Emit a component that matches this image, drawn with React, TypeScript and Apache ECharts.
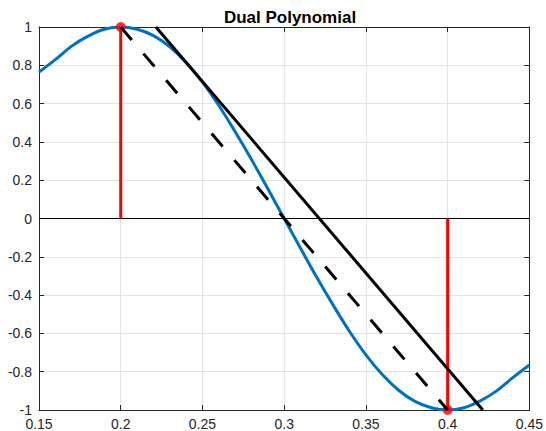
import React, { useEffect, useRef } from "react";
import * as echarts from "echarts";

const curveX = [
  0.15, 0.16, 0.17, 0.18, 0.19, 0.2, 0.21, 0.22, 0.23, 0.24, 0.25, 0.26, 0.27, 0.28, 0.29, 0.3,
  0.31, 0.32, 0.33, 0.34, 0.35, 0.36, 0.37, 0.38, 0.39, 0.4, 0.41, 0.42, 0.43, 0.44, 0.45,
];
const curveY = [
  0.765, 0.83, 0.9, 0.952, 0.988, 1.0, 0.988, 0.955, 0.897, 0.815, 0.712, 0.59, 0.453, 0.308, 0.155, 0.0,
  -0.155, -0.308, -0.453, -0.59, -0.712, -0.815, -0.897, -0.955, -0.988, -1.0, -0.988, -0.952, -0.9, -0.83, -0.765,
];
const spikeX = [0.2, 0.4];
const spikeY = [1, -1];
const dashedX = [0.2, 0.4];
const dashedY = [1, -1];
const solidX = [0.2215, 0.4215];
const solidY = [1, -1];
const zeroX = [0.15, 0.45];
const zeroY = [0, 0];
const xTicks = { min: 0.15, max: 0.45, step: 0.05 };
const yTicks = { min: -1, max: 1, step: 0.2 };

const FONT = "'Liberation Sans', Arial, Helvetica, sans-serif";
const AX = "#262626";

const pairs = (xs: number[], ys: number[]) => xs.map((x, i) => [x, ys[i]]);

export default function App() {
  const ref = useRef<HTMLDivElement>(null);
  useEffect(() => {
    if (!ref.current) return;
    const chart = echarts.init(ref.current, undefined, { renderer: "svg" });
    const fmt = (v: number) => String(parseFloat(v.toFixed(2)));
    const baseX = {
      type: "value" as const,
      min: xTicks.min,
      max: xTicks.max,
      interval: xTicks.step,
      axisLine: { onZero: false, lineStyle: { color: AX, width: 1 } },
      axisTick: { inside: true, length: 5, lineStyle: { color: AX } },
    };
    const baseY = {
      type: "value" as const,
      min: yTicks.min,
      max: yTicks.max,
      interval: yTicks.step,
      axisLine: { onZero: false, show: true, lineStyle: { color: AX, width: 1 } },
      axisTick: { inside: true, show: true, length: 5, lineStyle: { color: AX } },
    };
    const spikeStems = spikeX.map((x, i) => ({
      type: "line" as const,
      data: [[x, 0], [x, spikeY[i]]],
      showSymbol: false,
      symbol: "none",
      lineStyle: { color: "#ff0000", width: 3 },
      z: 3,
    }));
    chart.setOption({
      animation: false,
      backgroundColor: "#ffffff",
      title: {
        text: "Dual Polynomial",
        left: 285,
        top: 4,
        textAlign: "center",
        textStyle: { fontFamily: FONT, fontSize: 17, fontWeight: "bold", color: "#000000" },
      },
      grid: { left: 39, right: 15, top: 27, bottom: 18 },
      xAxis: [
        {
          ...baseX,
          position: "bottom",
          axisLabel: { color: AX, fontSize: 14, fontFamily: FONT, margin: 7, formatter: fmt },
          splitLine: { show: true, lineStyle: { color: "#e3e3e3", width: 1 } },
        },
        {
          ...baseX,
          position: "top",
          axisLabel: { show: false },
          splitLine: { show: false },
        },
      ],
      yAxis: [
        {
          ...baseY,
          position: "left",
          axisLabel: { color: AX, fontSize: 14, fontFamily: FONT, margin: 7, formatter: fmt },
          splitLine: { show: true, lineStyle: { color: "#e3e3e3", width: 1 } },
        },
        {
          ...baseY,
          position: "right",
          axisLabel: { show: false },
          splitLine: { show: false },
        },
      ],
      series: [
        {
          type: "line",
          data: pairs(curveX, curveY),
          smooth: 0.4,
          symbol: "none",
          lineStyle: { color: "#0072bd", width: 3 },
          z: 2,
        },
        {
          type: "line",
          data: pairs(zeroX, zeroY),
          symbol: "none",
          lineStyle: { color: "#000000", width: 1 },
          z: 2,
        },
        ...spikeStems,
        {
          type: "scatter",
          data: pairs(spikeX, spikeY),
          symbol: "circle",
          symbolSize: 10,
          itemStyle: { color: "#ff0000" },
          z: 4,
        },
        {
          type: "line",
          data: pairs(dashedX, dashedY),
          symbol: "none",
          lineStyle: { color: "#000000", width: 3, type: [17, 18], cap: "butt" },
          z: 5,
        },
        {
          type: "line",
          data: pairs(solidX, solidY),
          symbol: "none",
          lineStyle: { color: "#000000", width: 3 },
          z: 5,
        },
      ],
    });
    return () => chart.dispose();
  }, []);
  return (
    <div
      ref={ref}
      style={{ position: "fixed", left: 0, top: 0, width: 546, height: 431 }}
    />
  );
}
